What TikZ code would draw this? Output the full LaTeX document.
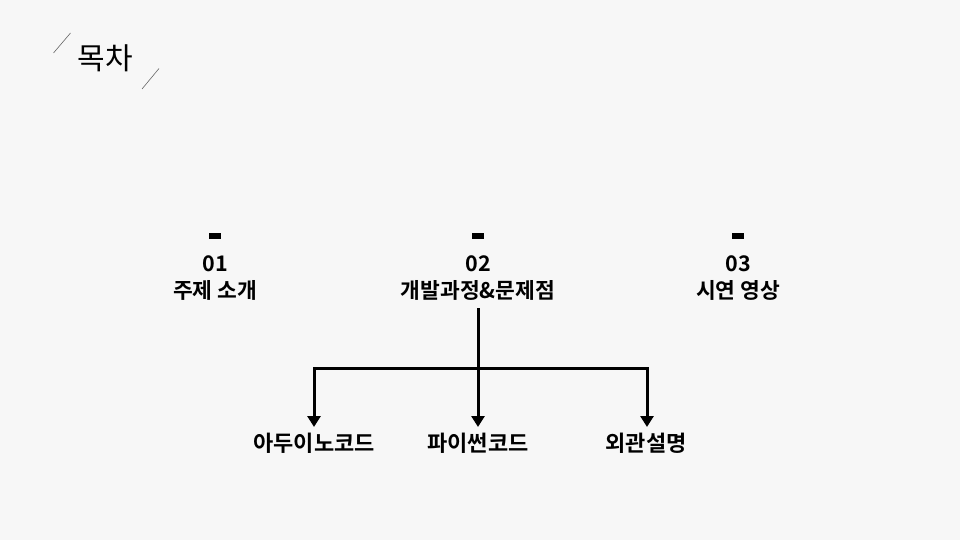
\documentclass[tikz,border=0pt]{standalone}
\usepackage{fontspec}
\newfontfamily\kr{Noto Sans CJK KR}
\newfontfamily\krb{Noto Sans CJK KR Bold}
\usetikzlibrary{arrows.meta}
\definecolor{bgpaper}{HTML}{F7F7F7}
\tikzset{
  head/.style={font=\krb\fontsize{21.5}{27}\selectfont, align=center, inner sep=0pt},
  leaf/.style={font=\krb\fontsize{22}{24}\selectfont, inner sep=0pt, anchor=center},
  tick/.style={fill=black, minimum width=12pt, minimum height=6pt, inner sep=0pt},
  link/.style={line width=3pt, -{Triangle[width=13pt,length=11pt]}},
}
\begin{document}
\begin{tikzpicture}[x=1pt,y=-1pt]
\fill[bgpaper] (0,0) rectangle (960,540);
\useasboundingbox (0,0) rectangle (960,540);
% title
\node [font=\kr\fontsize{30}{32}\selectfont, inner sep=0pt] (title) at (105.5,58) {목차};
\draw[gray!80!black, line width=0.6pt] (70.5,33) -- (53.5,53);
\draw[gray!80!black, line width=0.6pt] (159,68.5) -- (142,89);
% sections
\node [tick] (m1) at (215,236) {};
\node [tick] (m2) at (478,236) {};
\node [tick] (m3) at (738,236) {};
\node [head] (t1) at (215,278) {01\\주제 소개};
\node [head] (t2) at (478,278) {02\\개발과정\&문제점};
\node [head] (t3) at (738,278) {03\\시연 영상};
% branches
\node [leaf] (b1) at (314,443) {아두이노코드};
\node [leaf] (b2) at (478,443) {파이썬코드};
\node [leaf] (b3) at (646,443) {외관설명};
\coordinate (hub) at (478,368);
\coordinate (e1) at (314,427);
\coordinate (e2) at (478,427);
\coordinate (e3) at (647,427);
\draw[line width=3pt] (t2.south |- 0,308) -- (hub);
\draw[link] (hub) -- (e2);
\draw[link] (hub) -| (e1);
\draw[link] (hub) -| (e3);
\end{tikzpicture}
\end{document}
